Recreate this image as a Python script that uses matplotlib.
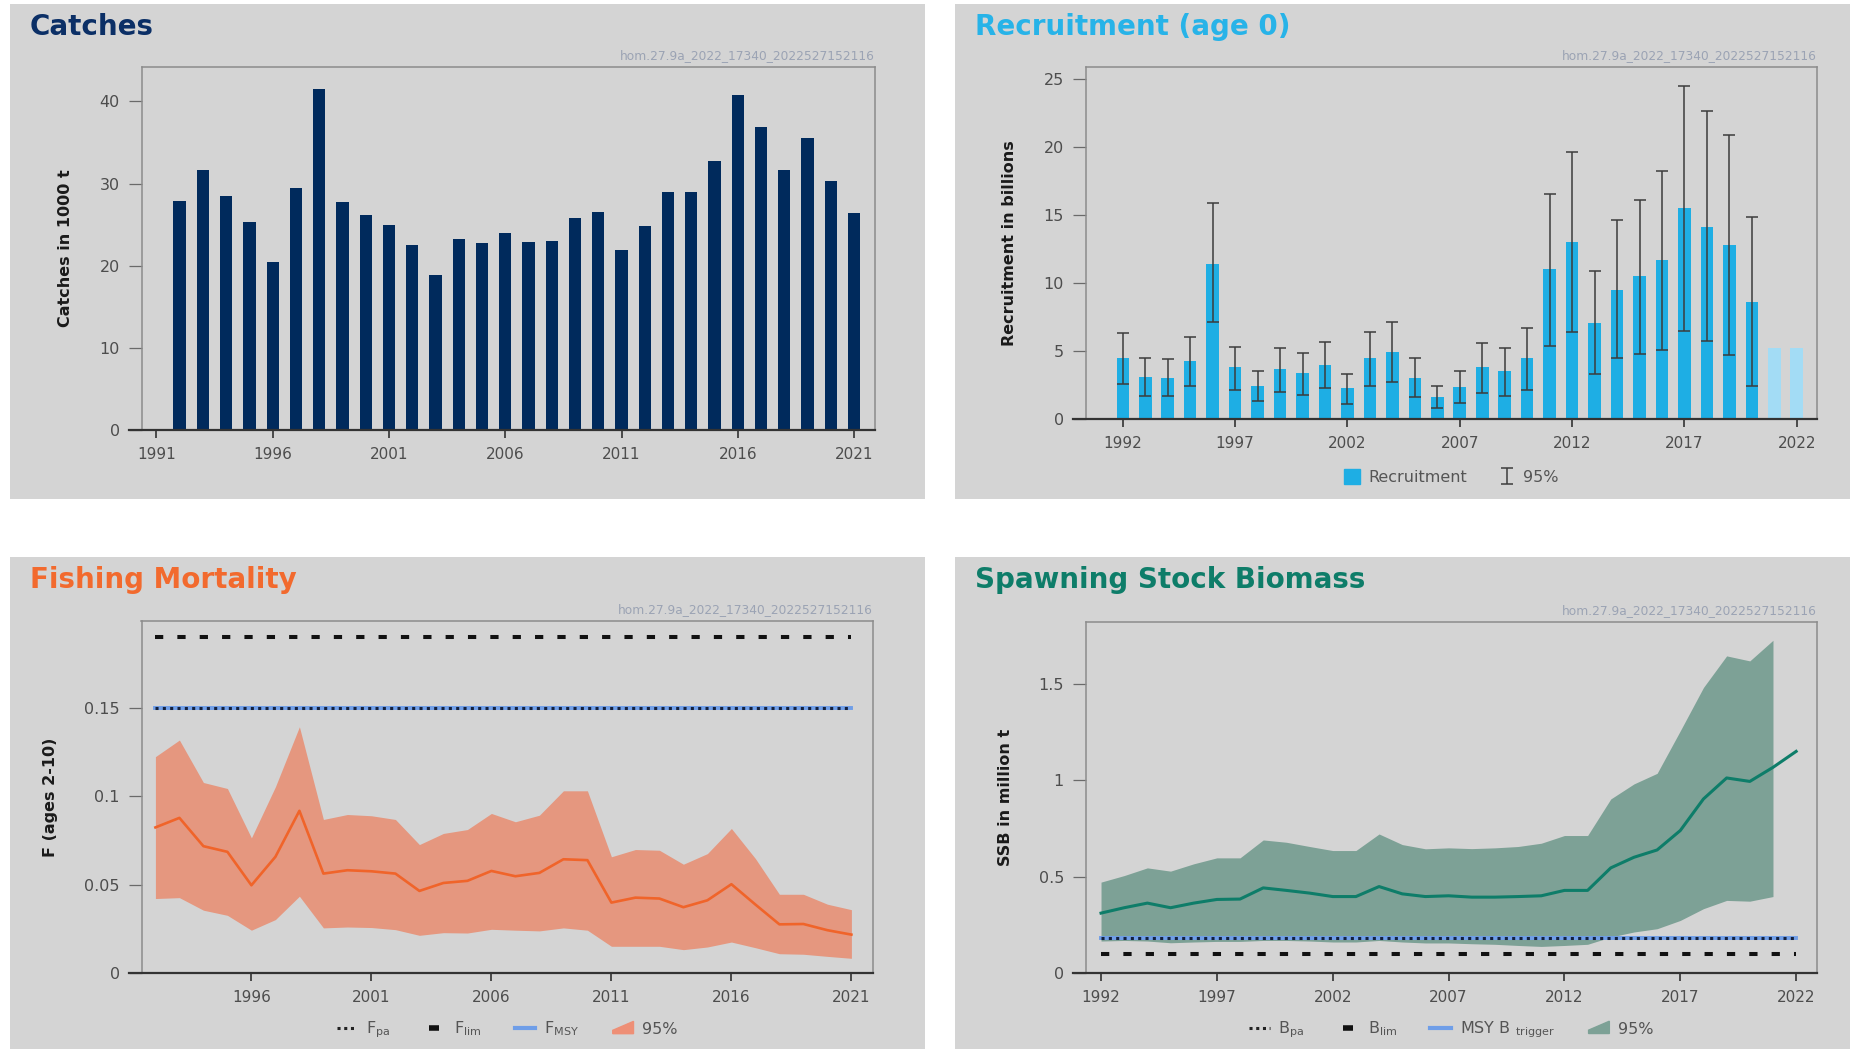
import matplotlib
matplotlib.use('Agg')
import matplotlib.pyplot as plt
from matplotlib.patches import Rectangle, Polygon, Patch
from matplotlib.lines import Line2D
from matplotlib.legend_handler import HandlerPatch

# data
catch_years = list(range(1992, 2022))
catches = [27.9, 31.6, 28.5, 25.3, 20.5, 29.5, 41.5, 27.8, 26.2, 25.0,
           22.5, 18.9, 23.3, 22.8, 24.0, 22.9, 23.0, 25.8, 26.6, 21.9,
           24.9, 29.0, 29.0, 32.7, 40.8, 36.9, 31.6, 35.6, 30.3, 26.4]

rec_years = list(range(1992, 2023))
recruitment = [4.45, 3.1, 3.05, 4.25, 11.4, 3.8, 2.45, 3.7, 3.35, 4.0,
               2.25, 4.45, 4.9, 3.05, 1.6, 2.35, 3.8, 3.5, 4.45, 11.0,
               13.0, 7.05, 9.5, 10.5, 11.7, 15.5, 14.15, 12.8, 8.6, 5.25, 5.25]
rec_low = [2.6, 1.7, 1.7, 2.4, 7.1, 2.15, 1.3, 2.0, 1.8, 2.25,
           1.1, 2.4, 2.75, 1.6, 0.8, 1.15, 1.9, 1.7, 2.15, 5.4,
           6.4, 3.3, 4.45, 4.75, 5.1, 6.5, 5.7, 4.7, 2.4]
rec_high = [6.3, 4.5, 4.43, 6.0, 15.9, 5.3, 3.5, 5.2, 4.85, 5.65,
            3.3, 6.4, 7.1, 4.5, 2.4, 3.55, 5.6, 5.25, 6.7, 16.55,
            19.6, 10.9, 14.65, 16.1, 18.25, 24.45, 22.65, 20.9, 14.85]

f_years = list(range(1992, 2022))
f_mean = [0.0823, 0.0877, 0.0717, 0.0685, 0.0496, 0.0657, 0.0917, 0.0562, 0.0581, 0.0575,
          0.0562, 0.0464, 0.0509, 0.0521, 0.0577, 0.0547, 0.0566, 0.0643, 0.0638, 0.0398,
          0.0426, 0.0421, 0.0372, 0.0411, 0.0502, 0.0387, 0.0275, 0.0277, 0.0242, 0.0217]
f_low = [0.0421, 0.0426, 0.0355, 0.0326, 0.0242, 0.0302, 0.0434, 0.0255, 0.0260, 0.0257,
         0.0245, 0.0213, 0.0228, 0.0226, 0.0247, 0.0242, 0.0238, 0.0255, 0.0242, 0.0151,
         0.0151, 0.0151, 0.0132, 0.0147, 0.0175, 0.0143, 0.0109, 0.0106, 0.0094, 0.0083]
f_high = [0.1223, 0.1317, 0.1077, 0.1043, 0.0764, 0.1053, 0.1392, 0.0868, 0.0896, 0.0889,
          0.0868, 0.0726, 0.0789, 0.0811, 0.0902, 0.0855, 0.0892, 0.1030, 0.1030, 0.0657,
          0.0698, 0.0694, 0.0615, 0.0675, 0.0817, 0.0647, 0.0445, 0.0445, 0.0389, 0.0358]
f_lim = 0.19
f_pa = 0.15
f_msy = 0.15

ssb_years = list(range(1992, 2023))
ssb = [0.311, 0.339, 0.363, 0.339, 0.363, 0.382, 0.384, 0.442, 0.429, 0.415,
       0.397, 0.397, 0.449, 0.411, 0.397, 0.401, 0.394, 0.394, 0.397, 0.401,
       0.429, 0.429, 0.546, 0.601, 0.639, 0.740, 0.904, 1.013, 0.995, 1.068, 1.151]
ssb_low = [0.166, 0.169, 0.166, 0.157, 0.161, 0.164, 0.164, 0.169, 0.169, 0.166,
           0.161, 0.161, 0.169, 0.161, 0.156, 0.156, 0.152, 0.149, 0.143, 0.138,
           0.143, 0.149, 0.187, 0.213, 0.230, 0.273, 0.334, 0.377, 0.373, 0.397]
ssb_high = [0.472, 0.506, 0.546, 0.529, 0.567, 0.598, 0.598, 0.691, 0.679, 0.657,
            0.636, 0.636, 0.722, 0.667, 0.645, 0.650, 0.646, 0.650, 0.657, 0.674,
            0.714, 0.714, 0.904, 0.982, 1.037, 1.258, 1.483, 1.647, 1.621, 1.728]
b_lim = 0.10
b_pa = 0.181
msy_btrigger = 0.181

stamp = 'hom.27.9a_2022_17340_2022527152116'

W, H = 1850, 1049
BG = '#d4d4d4'
fig = plt.figure(figsize=(W / 100, H / 100), dpi=100)
fig.patch.set_facecolor('white')


def fx(x):
    return x / W


def fy(y):
    return 1 - y / H


def panel(x0, y0, x1, y1):
    fig.add_artist(Rectangle((fx(x0), fy(y1)), (x1 - x0) / W, (y1 - y0) / H,
                             transform=fig.transFigure, facecolor=BG, edgecolor='none', zorder=0))


def make_axes(left, top, right, bottom):
    ax = fig.add_axes([fx(left), fy(bottom), (right - left) / W, (bottom - top) / H])
    ax.set_facecolor(BG)
    for s in ['top', 'right', 'left']:
        ax.spines[s].set_color('#8c8c8c')
        ax.spines[s].set_linewidth(1.1)
    ax.spines['bottom'].set_visible(False)
    ax.plot([-13 / (right - left), 1], [0, 0], transform=ax.transAxes, clip_on=False,
            color='#333333', lw=1.6, zorder=5)
    ax.tick_params(axis='x', length=5.5, width=1.2, color='#333333', labelsize=11,
                   labelcolor='#4d4d4d', pad=7)
    ax.tick_params(axis='y', length=9.5, width=0.9, color='#6a6a6a', labelsize=11.5,
                   labelcolor='#4d4d4d', pad=6)
    fig.text(fx(right), fy(top - 11), stamp, ha='right', va='center',
             fontsize=8.8, color='#9ba3b4')
    return ax


def title(x, y, txt, color):
    fig.text(fx(x), fy(y), txt, ha='left', va='baseline', fontsize=20,
             fontweight='bold', color=color)


def ylabel(x, top, bottom, txt):
    fig.text(fx(x), fy((top + bottom) / 2), txt, rotation=90, ha='center', va='center',
             fontsize=11.5, fontweight='bold', color='#1a1a1a')


def wedge(legend, orig_handle, xdescent, ydescent, width, height, fontsize):
    x0, y0 = -xdescent, -ydescent
    return Polygon([(x0, y0), (x0 + width, y0), (x0 + width, y0 + height * 1.1),
                    (x0, y0 + height * 0.3)], closed=True)


def ref_lines(ax, x0, x1, msy, pa, lim):
    ax.plot([x0, x1], [msy, msy], color='#6f9ee8', lw=2.8, zorder=4)
    ax.plot([x0, x1], [pa, pa], color='#14213d', lw=2.2,
            linestyle=(0, (1, 1.4)), zorder=5)
    ax.plot([x0, x1], [lim, lim], color='#111111', lw=2.9,
            linestyle=(0, (2.05, 3.5)), dash_capstyle='butt', zorder=5)


panel(9.5, 3.5, 925, 499)
panel(955, 3.5, 1850, 499)
panel(9.5, 557, 925, 1049)
panel(955, 557, 1850, 1049)

# Catches
ax = make_axes(141.5, 67, 875, 430)
ax.bar(catch_years, catches, width=0.53, color='#002a5c', zorder=2)
ax.set_xlim(1990.36, 2021.9)
ax.set_ylim(0, 44.2)
ax.set_xticks(range(1991, 2022, 5))
ax.set_yticks([0, 10, 20, 30, 40])
title(30, 35, 'Catches', '#0b2f66')
ylabel(66, 67, 430, 'Catches in 1000 t')

# Recruitment
ax = make_axes(1085.5, 67, 1817, 419)
rec_colors = ['#1eaee4'] * len(rec_low) + ['#a3dcf5'] * (len(recruitment) - len(rec_low))
ax.bar(rec_years, recruitment, width=0.56, color=rec_colors, zorder=2)
n = len(rec_low)
err = [[recruitment[i] - rec_low[i] for i in range(n)],
       [rec_high[i] - recruitment[i] for i in range(n)]]
eb = ax.errorbar(rec_years[:n], recruitment[:n], yerr=err, fmt='none', ecolor='#3c3c3c',
                 elinewidth=1.1, capsize=4.3, capthick=1.1, zorder=3)
ax.set_xlim(1990.34, 2022.9)
ax.set_ylim(0, 25.88)
ax.set_xticks(range(1992, 2023, 5))
ax.set_yticks([0, 5, 10, 15, 20, 25])
ax.legend([Patch(color='#1eaee4'), eb], ['Recruitment', '95%'], loc='center',
          bbox_to_anchor=(0.5, -0.165), ncol=2, frameon=False, fontsize=11.5,
          labelcolor='#555555', handlelength=1.0, handleheight=1.0,
          columnspacing=2.0, handletextpad=0.5)
title(975, 35, 'Recruitment (age 0)', '#27b3e8')
ylabel(1010, 67, 419, 'Recruitment in billions')

# Fishing mortality
ax = make_axes(141.5, 621, 873, 973)
ax.fill_between(f_years, f_low, f_high, color='#e5977f', lw=0, zorder=1)
ax.plot(f_years, f_mean, color='#f0642a', lw=1.9, zorder=3)
ref_lines(ax, f_years[0], f_years[-1], f_msy, f_pa, f_lim)
ax.set_xlim(1991.42, 2021.9)
ax.set_ylim(0, 0.199)
ax.set_xticks(range(1996, 2022, 5))
ax.set_yticks([0, 0.05, 0.1, 0.15])
ax.set_yticklabels(['0', '0.05', '0.1', '0.15'])
handles = [Line2D([], [], color='#222222', lw=2.2, linestyle=(0, (1, 1.2))),
           Line2D([], [], color='#111111', marker='_', markersize=7, mew=4, linestyle='none'),
           Line2D([], [], color='#6f9ee8', lw=3),
           Patch(color='#ee8f76')]
ax.legend(handles, [r'$\mathregular{F_{pa}}$', r'$\mathregular{F_{lim}}$',
                    r'$\mathregular{F_{MSY}}$', '95%'],
          handler_map={Patch: HandlerPatch(patch_func=wedge)},
          loc='center', bbox_to_anchor=(0.5, -0.162), ncol=4, frameon=False,
          fontsize=11.5, labelcolor='#555555', handlelength=1.3,
          columnspacing=2.1, handletextpad=0.55)
title(30, 588, 'Fishing Mortality', '#f26a2e')
ylabel(50, 621, 973, 'F (ages 2-10)')

# SSB
ax = make_axes(1085.5, 622, 1817, 973)
ax.fill_between(ssb_years[:len(ssb_low)], ssb_low, ssb_high, color='#7da196', lw=0, zorder=1)
ax.plot(ssb_years, ssb, color='#0e7d69', lw=2.2, zorder=3)
ref_lines(ax, ssb_years[0], ssb_years[-1], msy_btrigger, b_pa, b_lim)
ax.set_xlim(1991.33, 2022.9)
ax.set_ylim(0, 1.823)
ax.set_xticks(range(1992, 2023, 5))
ax.set_yticks([0, 0.5, 1, 1.5])
ax.set_yticklabels(['0', '0.5', '1', '1.5'])
handles = [Line2D([], [], color='#222222', lw=2.2, linestyle=(0, (1, 1.2))),
           Line2D([], [], color='#111111', marker='_', markersize=7, mew=4, linestyle='none'),
           Line2D([], [], color='#6f9ee8', lw=3),
           Patch(color='#7da196')]
ax.legend(handles, [r'$\mathregular{B_{pa}}$', r'$\mathregular{B_{lim}}$',
                    r'$\mathregular{MSY\ B\ _{trigger}}$', '95%'],
          handler_map={Patch: HandlerPatch(patch_func=wedge)},
          loc='center', bbox_to_anchor=(0.5, -0.162), ncol=4, frameon=False,
          fontsize=11.5, labelcolor='#555555', handlelength=1.3,
          columnspacing=2.1, handletextpad=0.55)
title(975, 588, 'Spawning Stock Biomass', '#0e7d69')
ylabel(1005, 622, 973, 'SSB in million t')

fig.savefig('out.png', dpi=100, facecolor='white')
